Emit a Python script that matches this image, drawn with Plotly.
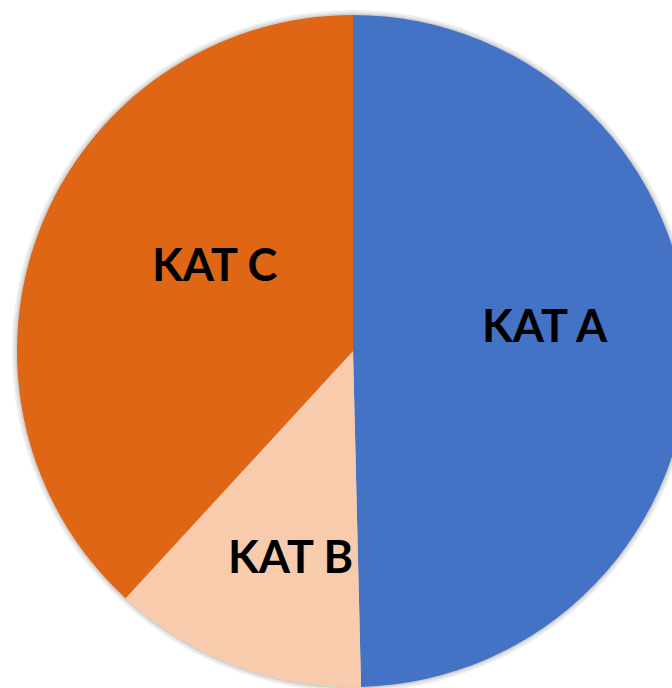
import math
import plotly.graph_objects as go

categories = ["KAT A", "KAT B", "KAT C"]
values = [65, 16, 50]
colors = ["#4472C4", "#F8CBAD", "#DF6614"]

W, H = 700, 700
CX, CY, R = 353, 351, 336          # pie centre and radius in pixels
LABEL_SHIFT = (24, -24)            # Excel-style label offset (px)


def domain_for(radius):
    return dict(x=[(CX - radius) / W, (CX + radius) / W],
                y=[1 - (CY + radius) / H, 1 - (CY - radius) / H])


fig = go.Figure()

# soft shadow rings behind the pie
for extra, col in [(5, "#EFEFEF"), (3, "#E2E2E2"), (1.5, "#D0D0D0")]:
    fig.add_trace(go.Pie(values=[1], marker=dict(colors=[col], line=dict(width=0)),
                         textinfo="none", hoverinfo="skip", showlegend=False,
                         sort=False, domain=domain_for(R + extra)))

fig.add_trace(go.Pie(
    labels=categories,
    values=values,
    sort=False,
    direction="clockwise",
    rotation=0,
    marker=dict(colors=colors, line=dict(width=0)),
    textinfo="none",
    showlegend=False,
    hoverinfo="label+percent",
    domain=domain_for(R),
))

# labels placed at the slice centres (same rule as plotly's inside text), shifted like Excel
total = sum(values)
start = 0.0
for cat, v in zip(categories, values):
    span = v / total * 2 * math.pi
    mid = start + span / 2
    half = min(math.pi / 1.5, span / 2)
    r_ins = min(1 / (1 + 1 / math.sin(half)), 0.5)
    rc = (1 - r_ins) * R
    px = CX + rc * math.sin(mid) + LABEL_SHIFT[0]
    py = CY - rc * math.cos(mid) + LABEL_SHIFT[1]
    fig.add_annotation(x=px / W, y=1 - py / H, xref="paper", yref="paper",
                       text=cat, showarrow=False, xanchor="center", yanchor="middle",
                       font=dict(family="Lato", size=45, color="black", weight=700))
    start += span

fig.update_layout(
    width=W,
    height=H,
    margin=dict(l=0, r=0, t=0, b=0),
    paper_bgcolor="white",
    plot_bgcolor="white",
)

post = """
document.documentElement.style.overflow='hidden';
document.body.style.overflow='hidden';
document.body.style.margin='0';
"""
fig.write_html("out.html", post_script=post, config={"displayModeBar": False})
